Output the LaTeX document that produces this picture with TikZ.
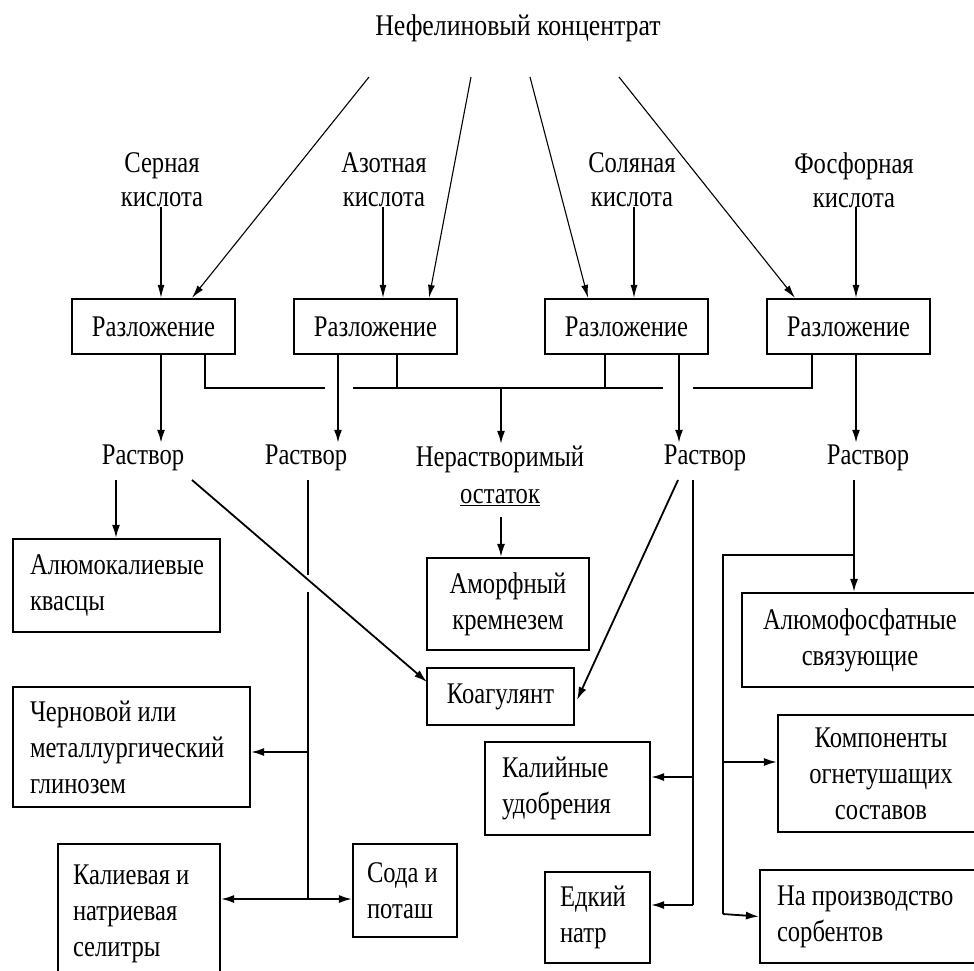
\documentclass[tikz,border=0pt]{standalone}
\usepackage{fontspec}
\setmainfont{Liberation Serif}[FakeStretch=0.82]
\newfontfamily\titlefont{Liberation Serif}[FakeStretch=0.86]
\usetikzlibrary{arrows.meta}
\begin{document}
\begin{tikzpicture}[x=1pt,y=-1pt,
  every node/.style={font=\fontsize{30}{36}\selectfont},
  box/.style={draw, line width=2.2pt, inner sep=0pt, align=center},
  lbox/.style={draw, line width=2.2pt, inner ysep=0pt, align=flush left},
  lbl/.style={inner sep=2pt, align=center},
  conn/.style={line width=1.8pt},
  thinl/.style={line width=1.1pt},
  arr/.style={conn, -{Latex[length=13pt,width=8pt]}},
  tarr/.style={thinl, -{Latex[length=13pt,width=7pt]}}]
\useasboundingbox (0,0) rectangle (974,970);
\fill[white] (0,0) rectangle (974,970);

% title and acids
\node[lbl, font=\titlefont\fontsize{30}{36}\selectfont] (title) at (518,28) {Нефелиновый концентрат};
\node[lbl, font=\fontsize{30}{34}\selectfont] (ser) at (162,180) {Серная\\кислота};
\node[lbl, font=\fontsize{30}{34}\selectfont] (azot) at (384,180) {Азотная\\кислота};
\node[lbl, font=\fontsize{30}{34}\selectfont] (sol) at (632,180) {Соляная\\кислота};
\node[lbl, font=\fontsize{30}{34}\selectfont] (fos) at (854,180) {Фосфорная\\кислота};

\coordinate (t1) at (369,77);
\coordinate (t2) at (471,77);
\coordinate (t3) at (530,77);
\coordinate (t4) at (619,77);

% decomposition boxes
\node[box, minimum width=163pt, minimum height=55pt] (b1) at (153.5,326.5) {Разложение};
\node[box, minimum width=163pt, minimum height=55pt] (b2) at (375.5,326.5) {Разложение};
\node[box, minimum width=163pt, minimum height=55pt] (b3) at (626.5,326.5) {Разложение};
\node[box, minimum width=163pt, minimum height=55pt] (b4) at (848.5,326.5) {Разложение};

% solutions
\node[lbl] (r1) at (143,458) {Раствор};
\node[lbl] (r2) at (306,458) {Раствор};
\node[lbl] (r4) at (705,458) {Раствор};
\node[lbl] (r5) at (868,458) {Раствор};
\node[lbl, font=\fontsize{30}{37}\selectfont] (ner) at (500,476) {Нерастворимый\\\underline{остаток}};

% products
\node[lbox, text width=173pt, inner xsep=17pt, minimum height=93pt] (alum) at (116.5,585.5) {Алюмокалиевые\\квасцы};
\node[lbox, text width=203pt, inner xsep=17pt, minimum height=120pt] (cher) at (131.5,747) {Черновой или\\металлургический\\глинозем};
\node[lbox, text width=132pt, inner xsep=15pt, minimum height=140pt] (selit) at (139,914) {Калиевая и\\натриевая\\селитры};
\node[lbox, text width=76pt, inner xsep=14pt, minimum height=93pt] (soda) at (405,890.5) {Сода и\\поташ};
\node[box, minimum width=162pt, minimum height=92pt] (amorf) at (508,604) {Аморфный\\кремнезем};
\node[box, minimum width=147pt, minimum height=57pt] (koag) at (500.5,696.5) {Коагулянт};
\node[lbox, text width=131pt, inner xsep=17pt, minimum height=93pt] (kali) at (567.5,788.5) {Калийные\\удобрения};
\node[lbox, text width=75pt, inner xsep=15pt, minimum height=91pt] (edk) at (597.5,917.5) {Едкий\\натр};
\node[box, minimum width=236pt, minimum height=94pt] (alph) at (860,640) {Алюмофосфатные\\связующие};
\node[box, minimum width=206pt, minimum height=117pt] (komp) at (881,773.5) {Компоненты\\огнетушащих\\составов};
\node[lbox, text width=196pt, inner xsep=17pt, minimum height=93pt] (sorb) at (875,916.5) {На производство\\сорбентов};

% concentrate arrows
\draw[tarr] (t1) -- (192,0 |- b1.north);
\draw[tarr] (t2) -- (429,0 |- b2.north);
\draw[tarr] (t3) -- (588,0 |- b3.north);
\draw[tarr] (t4) -- (795,0 |- b4.north);

% acid arrows
\draw[tarr] (161,207) -- (161,0 |- b1.north);
\draw[tarr] (383,207) -- (383,0 |- b2.north);
\draw[tarr] (634,207) -- (634,0 |- b3.north);
\draw[tarr] (856,207) -- (856,0 |- b4.north);

% bus of insoluble residue
\coordinate (bus1) at (205,388);
\coordinate (bus2) at (397,388);
\coordinate (bus3) at (501,388);
\coordinate (bus4) at (605,388);
\coordinate (bus5) at (812,388);
\draw[conn] (205,0 |- b1.south) -- (bus1) -- (325,388);
\draw[conn] (353,388) -- (663,388);
\draw[conn] (693,388) -- (bus5) -- (812,0 |- b4.south);
\draw[conn] (397,0 |- b2.south) -- (bus2);
\draw[conn] (605,0 |- b3.south) -- (bus4);
\draw[arr] (bus3) -- (501,0 |- ner.north);

% solution arrows
\draw[arr] (161,0 |- b1.south) -- (161,0 |- r1.north);
\draw[arr] (338,0 |- b2.south) -- (338,0 |- r2.north);
\draw[arr] (679,0 |- b3.south) -- (679,0 |- r4.north);
\draw[arr] (856,0 |- b4.south) -- (856,0 |- r5.north);

% from solution 1
\draw[arr] (116,480) -- (116,0 |- alum.north);
\draw[arr] (192,480) -- (427,682);

% from solution 2
\coordinate (j1) at (308,752);
\coordinate (j2) at (308,899);
\draw[conn] (308,480) -- (308,575);
\draw[conn] (308,592) -- (j2);
\draw[arr] (j1) -- (cher.east |- j1);
\draw[arr] (j2) -- (selit.east |- j2);
\draw[arr] (j2) -- (soda.west |- j2);

% insoluble residue
\draw[arr] (501,517) -- (501,0 |- amorf.north);

% from solution 4
\coordinate (k1) at (693,777);
\coordinate (k2) at (693,905);
\draw[arr] (678,480) -- (577,700);
\draw[conn] (693,480) -- (k2);
\draw[arr] (k1) -- (kali.east |- k1);
\draw[arr] (k2) -- (edk.east |- k2);

% from solution 5
\coordinate (m1) at (854,555);
\coordinate (m2) at (723,555);
\coordinate (m3) at (723,762);
\coordinate (m4) at (723,914);
\draw[arr] (854,480) -- (854,0 |- alph.north);
\draw[conn] (m1) -- (m2) -- (m4);
\draw[arr] (m3) -- (komp.west |- m3);
\draw[arr] (m4) -- (sorb.west);
\end{tikzpicture}
\end{document}
